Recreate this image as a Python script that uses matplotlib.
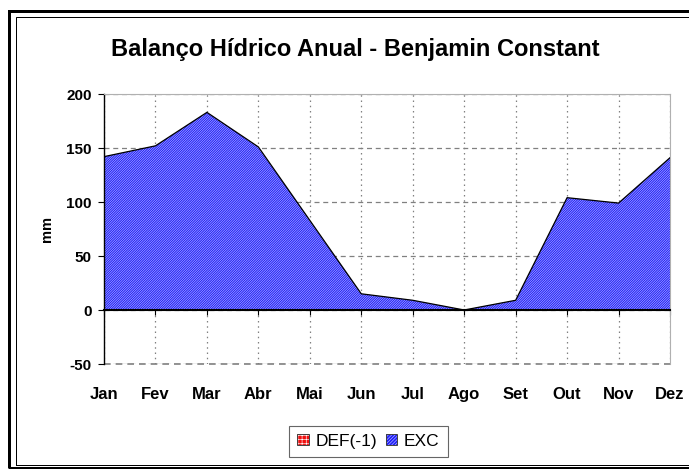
import numpy as np
import matplotlib
matplotlib.use('Agg')
import matplotlib.pyplot as plt
from matplotlib.patches import Patch, Rectangle
from matplotlib.legend_handler import HandlerTuple

months = ['Jan', 'Fev', 'Mar', 'Abr', 'Mai', 'Jun', 'Jul', 'Ago', 'Set', 'Out', 'Nov', 'Dez']
exc = [142, 152, 183, 151, 83, 15, 9, 0, 9, 104, 99, 141]
deficit = [0, 0, 0, 0, 0, 0, 0, 0, 0, 0, 0, 0]   # DEF(-1)
yticks = [-50, 0, 50, 100, 150, 200]
title = 'Balanço Hídrico Anual - Benjamin Constant'

plt.rcParams['font.family'] = ['Liberation Sans', 'DejaVu Sans']
plt.rcParams['hatch.linewidth'] = 0.45
plt.rcParams['axes.unicode_minus'] = False

W, H = 689, 469
fig = plt.figure(figsize=(W / 100, H / 100), dpi=100)
fig.patch.set_facecolor('white')

ax = fig.add_axes([104 / W, 1 - 364 / H, 566 / W, 270 / H])
x = np.arange(len(months))

blue = '#1c1cf8'
red = '#f01010'
hatch_c = '#c0c0ff'

# spines first (moving a spine resets its ticks)
ax.spines['left'].set_color('black')
ax.spines['left'].set_linewidth(1.0)
ax.spines['bottom'].set_position(('data', 0))
ax.spines['bottom'].set_color('black')
ax.spines['bottom'].set_linewidth(1.5)
ax.spines['bottom'].set_zorder(4)
for s in ['top', 'right']:
    ax.spines[s].set_color('#b0b0b0')
    ax.spines[s].set_linewidth(0.8)

ax.fill_between(x, 0, exc, facecolor=blue, edgecolor='none', lw=0, zorder=2)
ax.fill_between(x, 0, exc, facecolor='none', edgecolor=hatch_c, hatch='/' * 14, lw=0, zorder=2.1)
ax.plot(x, exc, color='black', lw=0.9, zorder=3)
ax.fill_between(x, 0, deficit, facecolor=red, edgecolor='none', lw=0, zorder=2)

ax.set_xlim(0, len(months) - 1)
ax.set_ylim(min(yticks), max(yticks))

ax.tick_params(axis='y', direction='out', length=4.3, width=0.8, pad=4.5,
               colors='black', labelsize=11)
ax.tick_params(axis='x', direction='out', length=3.6, width=0.8, pad=52,
               colors='black', labelsize=12)
ax.set_yticks(yticks)
ax.set_yticklabels([str(v) for v in yticks], fontsize=11, fontweight='bold')
ax.set_xticks(x)
ax.set_xticklabels(months, fontsize=12, fontweight='bold')

ax.yaxis.grid(True, color='#808080', linestyle=(0, (4, 3)), lw=0.9)
ax.xaxis.grid(True, color='#808080', linestyle=(0, (1.2, 3)), lw=0.9)
ax.set_axisbelow(True)
ax.axhline(min(yticks), color='#808080', linestyle=(0, (4, 3)), lw=1.2, clip_on=False, zorder=1)

ax.set_ylabel('mm', fontsize=10.5, fontweight='bold', labelpad=9)

fig.text(355 / W, 1 - 55.7 / H, title, ha='center', va='baseline',
         fontsize=17, fontweight='bold')

h_def = (Patch(facecolor=red, edgecolor='none', lw=0),
         Patch(facecolor='none', edgecolor='white', hatch='++++', lw=0),
         Patch(facecolor='none', edgecolor='#404040', lw=0.7))
h_exc = (Patch(facecolor=blue, edgecolor='none', lw=0),
         Patch(facecolor='none', edgecolor=hatch_c, hatch='/' * 10, lw=0),
         Patch(facecolor='none', edgecolor='#404040', lw=0.7))
leg = fig.legend([h_def, h_exc], ['DEF(-1)', 'EXC'], loc='center',
                 bbox_to_anchor=(368.5 / W, 1 - 441.3 / H), ncol=2, frameon=True,
                 fancybox=False, fontsize=12.5, handlelength=0.65, handleheight=0.65,
                 handletextpad=0.4, columnspacing=0.5, borderpad=0.45,
                 handler_map={tuple: HandlerTuple(ndivide=1, pad=0)})
leg.get_frame().set_edgecolor('#404040')
leg.get_frame().set_linewidth(0.8)

# chart frame (double border; right side lies beyond the picture edge)
fig.add_artist(Rectangle((8.5 / W, 1 - 467.5 / H), (700 - 8.5) / W, (467.5 - 11.5) / H,
                         transform=fig.transFigure, fill=False, ec='black', lw=2.16))
fig.add_artist(Rectangle((15.5 / W, 1 - 465 / H), (700 - 15.5) / W, (465 - 17) / H,
                         transform=fig.transFigure, fill=False, ec='black', lw=0.72))

fig.savefig('out.png', dpi=100, facecolor='white')
